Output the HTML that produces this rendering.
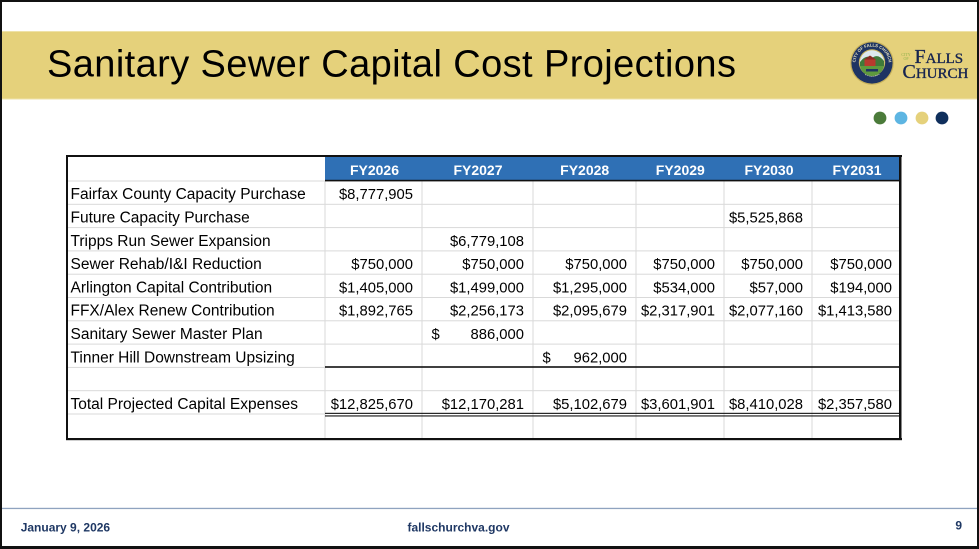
<!DOCTYPE html>
<html>
<head>
<meta charset="utf-8">
<style>
  html, body { margin:0; padding:0; background:#fff; }
  body { width:979px; height:549px; overflow:hidden; position:relative; }
  svg { position:absolute; left:0; top:0; }
  .sans { font-family:"Liberation Sans", Arial, sans-serif; }
  .serif { font-family:"Liberation Serif", "Times New Roman", serif; }
</style>
</head>
<body>
<svg width="979" height="549" viewBox="0 0 979 549" xmlns="http://www.w3.org/2000/svg">
  <rect x="0" y="0" width="979" height="549" fill="#ffffff"/>

  <!-- gold title bar -->
  <rect x="0" y="31" width="979" height="68.5" fill="#E5D17B"/>
  <rect x="0" y="31" width="979" height="1" fill="#EEE2A8"/>
  <rect x="0" y="98.5" width="979" height="1" fill="#EEE2A8"/>

  <!-- title -->
  <text class="sans" x="47" y="76.3" font-size="38" letter-spacing="0.4" fill="#000">Sanitary Sewer Capital Cost Projections</text>

  <!-- seal -->
  <defs>
    <path id="sealArc" d="M 855.5 63 A 16.5 16.5 0 1 1 888.5 63"/>
    <path id="sealArcB" d="M 858 66 A 14.5 14.5 0 0 0 886 66"/>
  </defs>
  <circle cx="872" cy="63" r="21.8" fill="#C6B05A"/>
  <circle cx="872" cy="63" r="20.6" fill="#1E3463"/>
  <text class="sans" font-size="4.2" fill="#E9E3C0" font-weight="bold"><textPath href="#sealArc" startOffset="50%" text-anchor="middle">CITY OF FALLS CHURCH</textPath></text>
  <text class="sans" font-size="3.6" fill="#E9E3C0" font-weight="bold"><textPath href="#sealArcB" startOffset="50%" text-anchor="middle">VIRGINIA</textPath></text>
  <circle cx="872" cy="62.5" r="13.2" fill="#C9B45E"/>
  <circle cx="872" cy="62.5" r="12.2" fill="#DDE9EE"/>
  <path d="M860 62 Q 866 54 872 58 Q 878 53 884 61 L 884 66 L 860 66 Z" fill="#3F7A3A"/>
  <rect x="864.5" y="59" width="11" height="7" fill="#B83A2E"/>
  <polygon points="864,59.5 870,55.5 876,59.5" fill="#8A2A22"/>
  <path d="M860 66 L 884 66 A 12.2 12.2 0 0 1 860 66 Z" fill="#5E9A3E"/>
  <rect x="866" y="69" width="12" height="2.5" fill="#1E3463"/>

  <!-- CITY OF FALLS CHURCH wordmark -->
  <text class="serif" x="906" y="55.8" font-size="4" text-anchor="middle" fill="#8DB14B">CITY</text>
  <text class="serif" x="906" y="60.2" font-size="4" text-anchor="middle" fill="#8DB14B">OF</text>
  <text class="serif" x="914.5" y="63" fill="#16244F" stroke="#16244F" stroke-width="0.35"><tspan font-size="20">F</tspan><tspan font-size="15">ALLS</tspan></text>
  <text class="serif" x="902.5" y="78" fill="#16244F" stroke="#16244F" stroke-width="0.35"><tspan font-size="20">C</tspan><tspan font-size="15">HURCH</tspan></text>

  <!-- colored dots -->
  <circle cx="880" cy="118" r="6.4" fill="#4B7B3A"/>
  <circle cx="901" cy="118" r="6.4" fill="#5DB5E2"/>
  <circle cx="922" cy="118" r="6.4" fill="#E5D17B"/>
  <circle cx="942" cy="118" r="6.4" fill="#0F2F5C"/>

  <!-- ============ TABLE ============ -->
  <rect x="325" y="157" width="574" height="23.5" fill="#2F70B5"/>

  <g fill="#D9D9D9">
    <rect x="67" y="180.5" width="258" height="1"/>
    <rect x="67" y="203.8" width="832" height="1"/>
    <rect x="67" y="227.1" width="832" height="1"/>
    <rect x="67" y="250.4" width="832" height="1"/>
    <rect x="67" y="273.7" width="832" height="1"/>
    <rect x="67" y="297.0" width="832" height="1"/>
    <rect x="67" y="320.3" width="832" height="1"/>
    <rect x="67" y="343.6" width="832" height="1"/>
    <rect x="67" y="366.9" width="258" height="1"/>
    <rect x="67" y="390.2" width="832" height="1"/>
    <rect x="67" y="413.5" width="258" height="1"/>
    <rect x="324.5" y="181" width="1" height="257"/>
    <rect x="421.5" y="181" width="1" height="257"/>
    <rect x="532.5" y="181" width="1" height="257"/>
    <rect x="635.5" y="181" width="1" height="257"/>
    <rect x="723.5" y="181" width="1" height="257"/>
    <rect x="811.5" y="181" width="1" height="257"/>
  </g>

  <g fill="#111">
    <rect x="66" y="155" width="836" height="2"/>
    <rect x="66" y="155" width="2" height="285"/>
    <rect x="899" y="155" width="2.5" height="285"/>
    <rect x="66" y="438" width="836" height="2.2"/>
    <rect x="325" y="179.8" width="576" height="1.6"/>
    <rect x="325" y="366.2" width="576" height="1.6"/>
    <rect x="325" y="412.8" width="576" height="1.1"/>
    <rect x="325" y="415.4" width="576" height="1.1"/>
  </g>

  <g class="sans" font-size="14" font-weight="bold" fill="#ffffff" text-anchor="middle">
    <text x="374.5" y="175">FY2026</text>
    <text x="478" y="175">FY2027</text>
    <text x="584.7" y="175">FY2028</text>
    <text x="680.3" y="175">FY2029</text>
    <text x="769" y="175">FY2030</text>
    <text x="857" y="175">FY2031</text>
  </g>

  <g class="sans" font-size="15.5" fill="#000">
    <text x="70.5" y="199.2">Fairfax County Capacity Purchase</text>
    <text x="70.5" y="222.5">Future Capacity Purchase</text>
    <text x="70.5" y="245.8">Tripps Run Sewer Expansion</text>
    <text x="70.5" y="269.1">Sewer Rehab/I&amp;I Reduction</text>
    <text x="70.5" y="292.4">Arlington Capital Contribution</text>
    <text x="70.5" y="315.7">FFX/Alex Renew Contribution</text>
    <text x="70.5" y="339.0">Sanitary Sewer Master Plan</text>
    <text x="70.5" y="362.3">Tinner Hill Downstream Upsizing</text>
    <text x="70.5" y="408.9">Total Projected Capital Expenses</text>
  </g>

  <g class="sans" font-size="14.8" fill="#000" text-anchor="end">
    <text x="413" y="199.2">$8,777,905</text>
    <text x="803" y="222.5">$5,525,868</text>
    <text x="524" y="245.8">$6,779,108</text>
    <text x="413" y="269.1">$750,000</text>
    <text x="524" y="269.1">$750,000</text>
    <text x="627" y="269.1">$750,000</text>
    <text x="715" y="269.1">$750,000</text>
    <text x="803" y="269.1">$750,000</text>
    <text x="892" y="269.1">$750,000</text>
    <text x="413" y="292.4">$1,405,000</text>
    <text x="524" y="292.4">$1,499,000</text>
    <text x="627" y="292.4">$1,295,000</text>
    <text x="715" y="292.4">$534,000</text>
    <text x="803" y="292.4">$57,000</text>
    <text x="892" y="292.4">$194,000</text>
    <text x="413" y="315.7">$1,892,765</text>
    <text x="524" y="315.7">$2,256,173</text>
    <text x="627" y="315.7">$2,095,679</text>
    <text x="715" y="315.7">$2,317,901</text>
    <text x="803" y="315.7">$2,077,160</text>
    <text x="892" y="315.7">$1,413,580</text>
    <text x="524" y="339.0">886,000</text>
    <text x="627" y="362.3">962,000</text>
    <text x="413" y="408.9">$12,825,670</text>
    <text x="524" y="408.9">$12,170,281</text>
    <text x="627" y="408.9">$5,102,679</text>
    <text x="715" y="408.9">$3,601,901</text>
    <text x="803" y="408.9">$8,410,028</text>
    <text x="892" y="408.9">$2,357,580</text>
  </g>
  <g class="sans" font-size="14.8" fill="#000">
    <text x="431.5" y="339.0">$</text>
    <text x="542.5" y="362.3">$</text>
  </g>

  <!-- footer -->
  <rect x="0" y="507.8" width="979" height="1.3" fill="#8FA3BF"/>
  <g class="sans" font-size="12" font-weight="bold" fill="#1F3864">
    <text x="20.7" y="531.5">January 9, 2026</text>
    <text x="458.5" y="531.5" text-anchor="middle">fallschurchva.gov</text>
    <text x="962" y="529.5" text-anchor="end">9</text>
  </g>

  <!-- slide outer border -->
  <rect x="0" y="0" width="979" height="2" fill="#111"/>
  <rect x="0" y="0" width="2" height="549" fill="#111"/>
  <rect x="977" y="0" width="2" height="549" fill="#111"/>
  <rect x="0" y="546" width="979" height="3" fill="#111"/>
</svg>
</body>
</html>
